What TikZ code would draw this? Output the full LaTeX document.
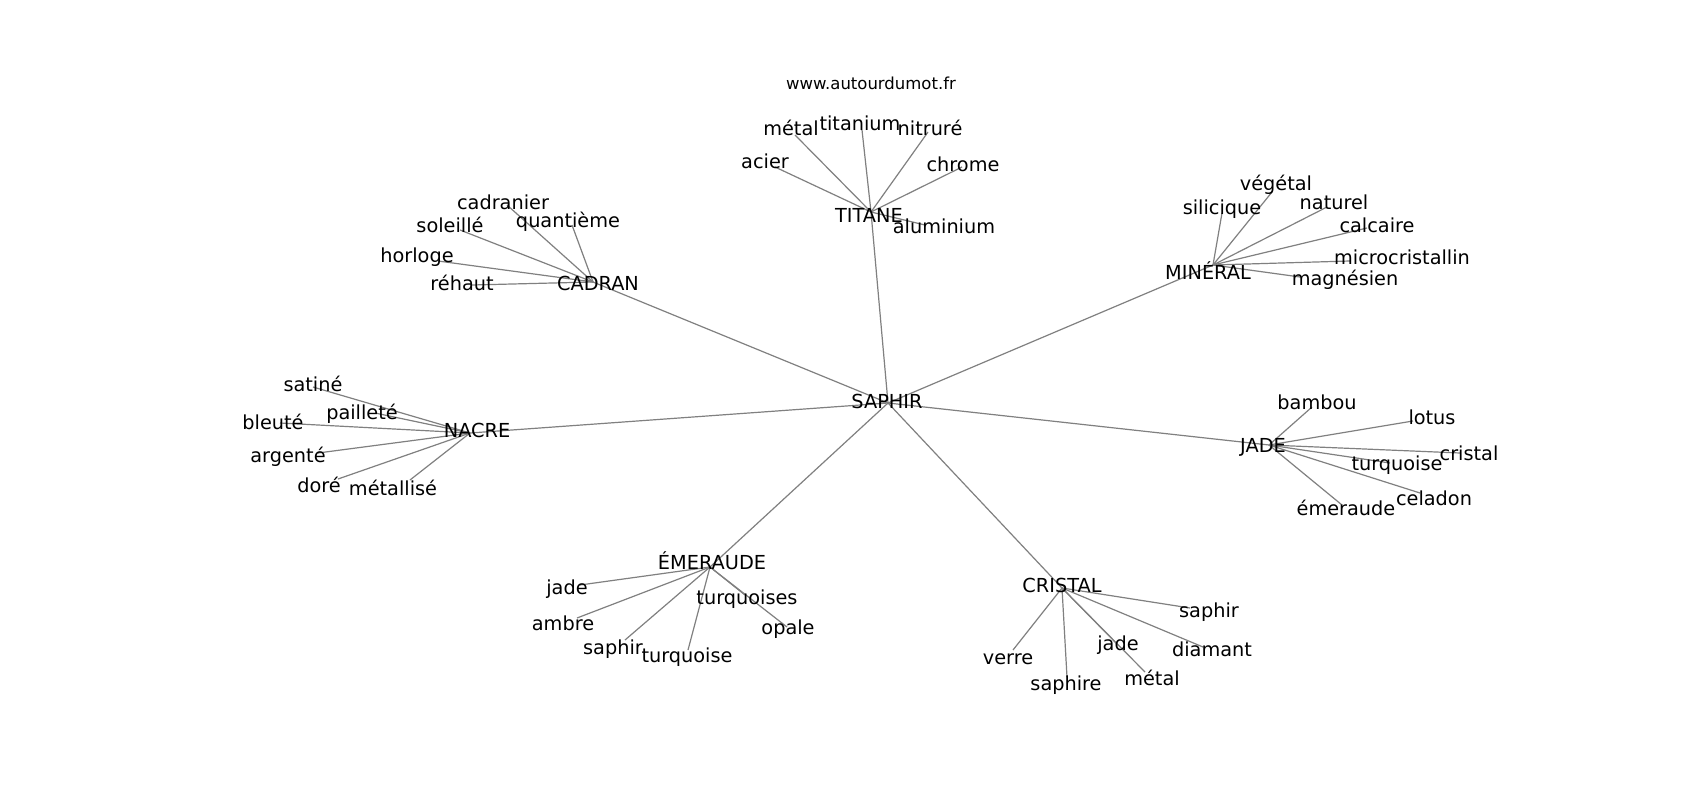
\documentclass[tikz,border=0pt]{standalone}
\usepackage{fontspec}
\setmainfont{DejaVu Sans}
\pgfdeclarelayer{fg}
\pgfsetlayers{main,fg}
\tikzset{
  lbl/.style={inner sep=0pt, anchor=center, yshift=-4.5pt, text height=0.75em, text depth=0.2em, font=\fontsize{19.3}{21}\selectfont},
  ttl/.style={inner sep=0pt, anchor=center, font=\fontsize{16.5}{18}\selectfont},
  link/.style={draw=gray, line width=1.2pt}
}
% #1 name, #2 node point, #3 label centre, #4 text, #5 hub
\newcommand\mywd[5]{%
  \coordinate (#1) at (#2);
  \draw[link] (#5) -- (#1);
  \begin{pgfonlayer}{fg}\node[lbl] (#1L) at (#3) {#4};\end{pgfonlayer}}
\newcommand\myhub[4]{%
  \coordinate (#1) at (#2);
  \begin{pgfonlayer}{fg}\node[lbl] (#1L) at (#3) {#4};\end{pgfonlayer}}
\begin{document}
\begin{tikzpicture}[x=1pt,y=-1pt]
\useasboundingbox (0,0) rectangle (1700,800);
\fill[white] (0,0) rectangle (1700,800);
\node[ttl] (title) at (871,83) {www.autourdumot.fr};
% hubs
\myhub{saphir}{888,403}{887,401}{SAPHIR}
\myhub{titane}{871,212}{869,215}{TITANE}
\myhub{cadran}{593,282}{598,283}{CADRAN}
\myhub{mineral}{1213,265}{1208,272}{MINÉRAL}
\myhub{nacre}{470,433}{477,430}{NACRE}
\myhub{jade}{1269,445}{1263,445}{JADE}
\myhub{emeraude}{710,567}{712,562}{ÉMERAUDE}
\myhub{cristal}{1062,588}{1062,585}{CRISTAL}
\foreach \h in {titane,cadran,mineral,nacre,jade,emeraude,cristal}
  \draw[link] (saphir) -- (\h);
% TITANE
\mywd{tmetal}{795,135}{791,128}{métal}{titane}
\mywd{ttitanium}{862,130}{860,123}{titanium}{titane}
\mywd{tnitrure}{928,132}{930,128}{nitruré}{titane}
\mywd{tacier}{775,167}{765,161}{acier}{titane}
\mywd{tchrome}{962,167}{963,164}{chrome}{titane}
\mywd{talu}{925,225}{944,226}{aluminium}{titane}
% CADRAN
\mywd{ccadranier}{507,205}{503,202}{cadranier}{cadran}
\mywd{cquant}{572,225}{568,220}{quantième}{cadran}
\mywd{csoleille}{460,230}{450,225}{soleillé}{cadran}
\mywd{chorloge}{438,261}{417,255}{horloge}{cadran}
\mywd{crehaut}{472,285}{462,283}{réhaut}{cadran}
% MINERAL
\mywd{msilicique}{1222,213}{1222,207}{silicique}{mineral}
\mywd{mvegetal}{1272,192}{1276,183}{végétal}{mineral}
\mywd{mnaturel}{1327,207}{1334,202}{naturel}{mineral}
\mywd{mcalcaire}{1367,228}{1377,225}{calcaire}{mineral}
\mywd{mmicro}{1350,261}{1402,257}{microcristallin}{mineral}
\mywd{mmagnesien}{1300,277}{1345,278}{magnésien}{mineral}
% NACRE
\mywd{nsatine}{313,387}{313,384}{satiné}{nacre}
\mywd{npaillete}{375,413}{362,412}{pailleté}{nacre}
\mywd{nbleute}{280,423}{273,422}{bleuté}{nacre}
\mywd{nargente}{318,453}{288,455}{argenté}{nacre}
\mywd{ndore}{338,479}{319,485}{doré}{nacre}
\mywd{nmetal}{410,480}{393,488}{métallisé}{nacre}
% JADE
\mywd{jbambou}{1312,407}{1317,402}{bambou}{jade}
\mywd{jlotus}{1413,421}{1432,417}{lotus}{jade}
\mywd{jcristal}{1460,453}{1469,453}{cristal}{jade}
\mywd{jturq}{1390,463}{1397,463}{turquoise}{jade}
\mywd{jceladon}{1420,493}{1434,498}{celadon}{jade}
\mywd{jemer}{1342,505}{1346,508}{émeraude}{jade}
% EMERAUDE
\mywd{ejade}{580,585}{567,587}{jade}{emeraude}
\mywd{eambre}{577,618}{563,623}{ambre}{emeraude}
\mywd{esaphir}{625,640}{613,647}{saphir}{emeraude}
\mywd{eturq}{688,650}{687,655}{turquoise}{emeraude}
\mywd{eturqs}{745,595}{747,597}{turquoises}{emeraude}
\mywd{eopale}{787,627}{788,627}{opale}{emeraude}
% CRISTAL
\mywd{ksaphir}{1190,608}{1209,610}{saphir}{cristal}
\mywd{kverre}{1013,650}{1008,657}{verre}{cristal}
\mywd{ksaphire}{1067,677}{1066,683}{saphire}{cristal}
\mywd{kjade}{1118,645}{1118,643}{jade}{cristal}
\mywd{kmetal}{1145,672}{1152,678}{métal}{cristal}
\mywd{kdiamant}{1203,647}{1212,649}{diamant}{cristal}
\end{tikzpicture}
\end{document}
